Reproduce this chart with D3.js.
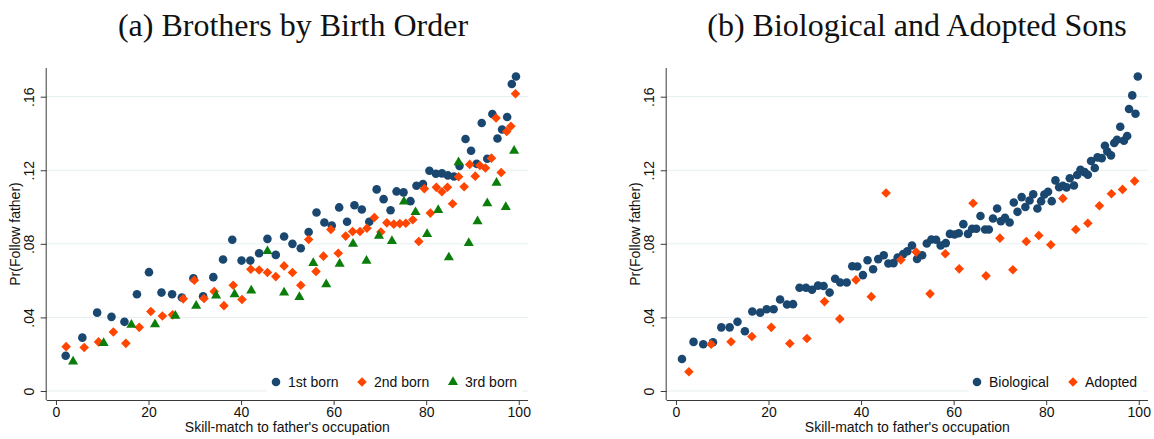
<!DOCTYPE html>
<html>
<head>
<meta charset="utf-8">
<script src="https://cdn.jsdelivr.net/npm/d3@7"></script>
<style>
  html, body { margin: 0; padding: 0; background: #fff; }
  svg { display: block; }
</style>
</head>
<body>
<svg id="chart" width="1154" height="439"></svg>
<script>
// ---------------- DATA ----------------
const xTicks = [0, 20, 40, 60, 80, 100];
const yTicks = [0, 0.04, 0.08, 0.12, 0.16];
const yTickLabels = ["0", ".04", ".08", ".12", ".16"];

const titleA = "(a) Brothers by Birth Order";
const titleB = "(b) Biological and Adopted Sons";
const xTitle = "Skill-match to father's occupation";
const yTitle = "Pr(Follow father)";

// Panel (a)
const firstX = [2.1,5.7,8.9,12.0,14.8,17.5,20.1,22.8,25.1,27.2,29.7,31.8,34.0,36.1,38.1,40.1,42.0,43.9,45.7,47.5,49.3,51.1,52.9,54.6,56.3,58.0,59.6,61.2,62.9,64.5,66.1,67.7,69.3,70.8,72.3,73.6,75.1,76.6,77.9,79.3,80.7,82.1,83.4,84.7,86.0,87.2,88.5,89.7,90.9,92.0,93.2,94.3,95.4,96.4,97.5,98.5,99.4];
const firstY = [.0192,.029,.0426,.0403,.0376,.0526,.0646,.0535,.0526,.0508,.0613,.0515,.0619,.0715,.0822,.0709,.0709,.0749,.0827,.074,.084,.080,.0776,.0864,.097,.0916,.090,.0998,.092,.101,.0987,.092,.1096,.1043,.0983,.1085,.108,.1032,.1116,.1125,.1197,.1181,.1183,.1172,.1166,.1224,.137,.1306,.1235,.1457,.1263,.1506,.1373,.1422,.149,.1669,.171];

const secondX = [2.2,6.1,9.2,12.4,15.1,18.0,20.5,23.0,25.2,27.5,29.9,32.0,34.2,36.3,38.3,40.2,42.1,43.9,45.7,47.5,49.3,51.1,52.9,54.6,56.2,57.8,59.4,61.0,62.6,64.1,65.7,67.2,68.8,70.2,71.5,73.0,74.3,75.6,77.1,78.4,79.6,80.9,82.2,83.4,84.6,85.7,87.0,88.2,89.4,90.6,91.6,92.8,94.1,95.1,96.2,97.4,98.3,99.3];
const secondY = [.0241,.0236,.0267,.0321,.0259,.0346,.0432,.0408,.0414,.0501,.0602,.0503,.0541,.0464,.0575,.0497,.0662,.0658,.0644,.0622,.068,.0644,.0575,.0824,.065,.0733,.0878,.0749,.0842,.0867,.0867,.0885,.0943,.0864,.0914,.0907,.091,.0912,.0931,.0813,.110,.0967,.1107,.1083,.1108,.1018,.1165,.111,.1232,.1168,.1226,.1212,.1266,.1484,.1188,.1411,.1439,.1616];

const thirdX = [3.7,10.3,16.3,21.4,25.8,30.3,34.6,38.6,42.2,45.7,49.3,52.6,55.6,58.4,61.3,64.2,67.1,69.8,72.6,75.2,77.7,80.2,82.6,84.9,87.0,89.2,91.1,93.2,95.2,97.2,99.0];
const thirdY = [.016,.026,.036,.0363,.0408,.0463,.0519,.0526,.0546,.076,.0535,.051,.0695,.058,.0691,.080,.0708,.0844,.0815,.103,.0972,.0853,.0983,.0726,.1243,.0804,.0922,.102,.1132,.100,.1306];

// Panel (b)
const bioX = [1.3,3.8,5.9,8.0,9.8,11.6,13.3,14.9,16.5,18.2,19.6,21.1,22.5,24.0,25.3,26.7,28.1,29.4,30.7,31.9,33.2,34.4,35.5,36.9,38.1,39.2,40.4,41.4,42.6,43.7,44.9,45.9,47.0,47.9,49.1,50.0,51.0,52.1,53.2,54.2,55.2,56.2,57.2,58.3,59.2,60.2,61.1,62.1,63.1,64.0,64.9,65.8,66.8,67.6,68.5,69.4,70.2,71.1,72.1,73.0,73.8,74.7,75.5,76.4,77.2,78.1,78.9,79.6,80.4,81.2,82.0,82.8,83.6,84.4,85.1,86.0,86.7,87.4,88.3,89.0,89.7,90.5,91.1,92.0,92.7,93.2,94.0,94.7,95.3,96.0,96.8,97.5,97.9,98.6,99.3,99.8];
const bioY = [.0174,.0267,.0254,.0265,.0346,.0346,.0376,.0325,.0432,.0426,.0444,.0444,.0497,.047,.0472,.0561,.0561,.055,.0573,.0571,.0535,.061,.059,.059,.0678,.0677,.063,.0711,.0662,.0717,.0738,.0693,.0695,.0726,.0744,.076,.0791,.0718,.0738,.0802,.0824,.0822,.0791,.0804,.0854,.0851,.0858,.0907,.0854,.0882,.0882,.0951,.0878,.0878,.0938,.0992,.0923,.0941,.0916,.1025,.0974,.1054,.1,.1036,.107,.0992,.1032,.1068,.1083,.1032,.1145,.1108,.1116,.1107,.1157,.1117,.1174,.1203,.119,.1176,.125,.1212,.127,.1266,.1333,.1302,.1281,.1348,.1366,.1437,.1361,.1386,.1533,.1607,.1507,.171];

const adoptX = [2.8,7.6,11.9,16.4,20.6,24.6,28.3,32.1,35.4,38.9,42.2,45.4,48.6,51.9,54.9,58.2,61.2,64.2,67.0,70.0,72.8,75.7,78.4,81.0,83.6,86.4,89.0,91.5,94.1,96.5,99.1];
const adoptY = [.0105,.0254,.0268,.0296,.0346,.0258,.0285,.0486,.0392,.0604,.0513,.1076,.0713,.0755,.0528,.0746,.0664,.1021,.0626,.0831,.0659,.0813,.0845,.0795,.1047,.0878,.0912,.1007,.1072,.1096,.1141];

const legendA = ["1st born", "2nd born", "3rd born"];
const legendB = ["Biological", "Adopted"];

// ---------------- STYLE / LAYOUT ----------------
const NAVY = "#1a476f", ORANGE = "#ff4500", GREEN = "#0b7d0b";
const GRID = "#e6eef0", AXIS = "#3a3a3a";
const SANS = "Arial, 'Liberation Sans', Helvetica, sans-serif";
const SERIF = "'Liberation Serif', 'Times New Roman', serif";

const svg = d3.select("#chart");

const symCircle = d3.symbol().type(d3.symbolCircle).size(58)();
const symDiamond = d3.symbol().type(d3.symbolSquare).size(46)();
const symTriangle = d3.symbol().type(d3.symbolTriangle).size(44)();

function drawPanel(opts) {
  const { x0, x1, title, titleX, series, legendItems, legendRect } = opts;
  const yTop = 68, yBot = 400;
  const x = d3.scaleLinear().domain([-2, 102]).range([x0, x1]);
  const y = d3.scaleLinear().domain([-0.0049, 0.1756]).range([yBot, yTop]);
  const g = svg.append("g");

  // gridlines
  g.append("g").selectAll("line").data(yTicks).join("line")
    .attr("x1", x0).attr("x2", x1)
    .attr("y1", d => y(d)).attr("y2", d => y(d))
    .attr("stroke", GRID).attr("stroke-width", 1);

  // x axis
  const xAxis = d3.axisBottom(x).tickValues(xTicks).tickSize(5).tickPadding(2)
    .tickFormat(d3.format("d")).tickSizeOuter(0);
  const gx = g.append("g").attr("transform", `translate(0,${yBot})`).call(xAxis);
  gx.select(".domain").attr("stroke", AXIS).attr("d", `M${x0},0.5H${x1}`);
  gx.selectAll(".tick line").attr("stroke", AXIS);
  gx.selectAll(".tick text").attr("font-family", SANS).attr("font-size", 14)
    .attr("fill", "#111").attr("dy", null).attr("y", 16.5);

  // y axis
  const yAxis = d3.axisLeft(y).tickValues(yTicks).tickSize(6)
    .tickFormat((d, i) => yTickLabels[i]).tickSizeOuter(0);
  const gy = g.append("g").attr("transform", `translate(${x0},0)`).call(yAxis);
  gy.select(".domain").attr("stroke", AXIS).attr("d", `M-0.5,${yTop}V${yBot}`);
  gy.selectAll(".tick line").attr("stroke", AXIS);
  gy.selectAll(".tick text").attr("font-family", SANS).attr("font-size", 14)
    .attr("fill", "#111").attr("x", null).attr("dy", null)
    .attr("text-anchor", "middle")
    .attr("transform", `translate(-12.5,0) rotate(-90)`);

  // axis titles
  g.append("text").attr("x", (x0 + x1) / 2).attr("y", 432)
    .attr("text-anchor", "middle").attr("font-family", SANS).attr("font-size", 14)
    .attr("fill", "#111").text(xTitle);
  g.append("text")
    .attr("transform", `translate(${x0 - 26.5},${(yTop + yBot) / 2}) rotate(-90)`)
    .attr("text-anchor", "middle").attr("font-family", SANS).attr("font-size", 14)
    .attr("fill", "#111").text(yTitle);

  // title
  g.append("text").attr("x", titleX).attr("y", 36)
    .attr("text-anchor", "middle").attr("font-family", SERIF).attr("font-size", 32)
    .attr("fill", "#111").text(title);

  // markers
  series.forEach(s => {
    const pts = s.xs.map((v, i) => [v, s.ys[i]]);
    g.append("g").selectAll("path").data(pts).join("path")
      .attr("d", s.sym)
      .attr("transform", d => `translate(${x(d[0])},${y(d[1])})${s.rot ? " rotate(45)" : ""}`)
      .attr("fill", s.color);
  });

  // legend
  const lg = g.append("g");
  lg.append("rect").attr("x", legendRect[0]).attr("y", 370)
    .attr("width", legendRect[1] - legendRect[0]).attr("height", 24).attr("fill", "#fff");
  legendItems.forEach((it, i) => {
    lg.append("path").attr("d", it.sym)
      .attr("transform", `translate(${it.mx},382)${it.rot ? " rotate(45)" : ""}`)
      .attr("fill", it.color);
    lg.append("text").attr("x", it.mx + 12).attr("y", 387)
      .attr("font-family", SANS).attr("font-size", 14).attr("fill", "#111")
      .text(it.label);
  });
}

drawPanel({
  x0: 46.7, x1: 528, title: titleA, titleX: 293,
  series: [
    { xs: firstX, ys: firstY, sym: symCircle, color: NAVY },
    { xs: secondX, ys: secondY, sym: symDiamond, color: ORANGE, rot: true },
    { xs: thirdX, ys: thirdY, sym: symTriangle, color: GREEN }
  ],
  legendRect: [267, 522],
  legendItems: [
    { label: legendA[0], sym: symCircle, color: NAVY, mx: 276 },
    { label: legendA[1], sym: symDiamond, color: ORANGE, rot: true, mx: 362 },
    { label: legendA[2], sym: symTriangle, color: GREEN, mx: 453 }
  ]
});

drawPanel({
  x0: 666.7, x1: 1148, title: titleB, titleX: 917,
  series: [
    { xs: bioX, ys: bioY, sym: symCircle, color: NAVY },
    { xs: adoptX, ys: adoptY, sym: symDiamond, color: ORANGE, rot: true }
  ],
  legendRect: [968, 1143],
  legendItems: [
    { label: legendB[0], sym: symCircle, color: NAVY, mx: 977 },
    { label: legendB[1], sym: symDiamond, color: ORANGE, rot: true, mx: 1073 }
  ]
});
</script>
</body>
</html>
